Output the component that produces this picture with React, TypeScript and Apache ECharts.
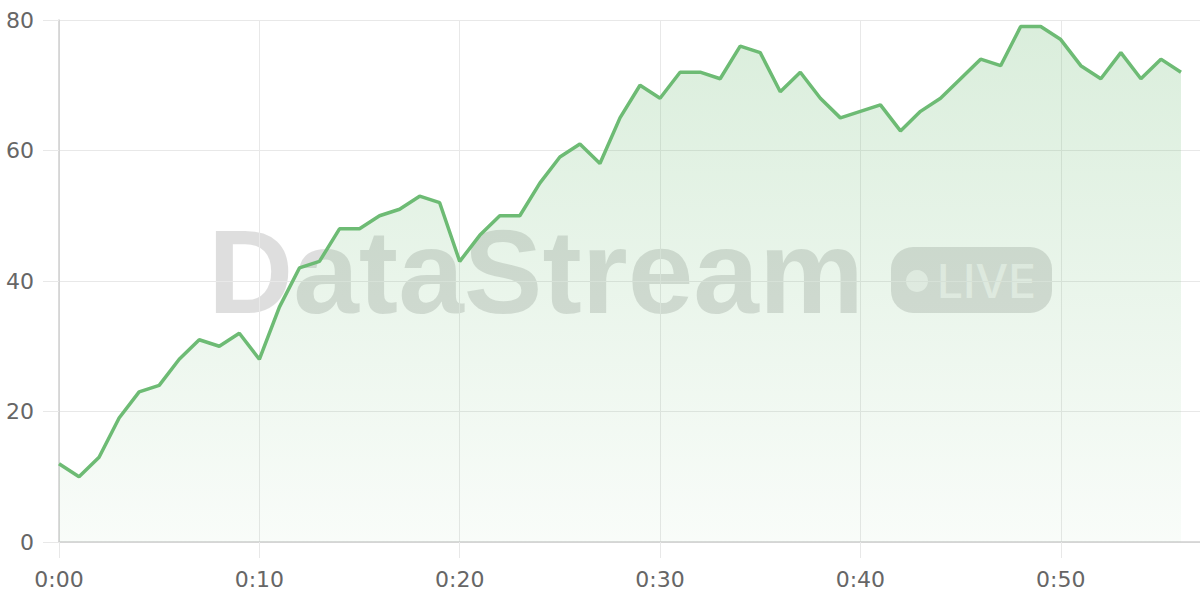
import React, { useEffect, useRef } from 'react';
import * as echarts from 'echarts';

// minutes since start, one reading per minute
const minutes: number[] = Array.from({ length: 57 }, (_, i) => i);
const values: number[] = [
  12, 10, 13, 19, 23, 24, 28, 31, 30, 32,
  28, 36, 42, 43, 48, 48, 50, 51, 53, 52,
  43, 47, 50, 50, 55, 59, 61, 58, 65, 70,
  68, 72, 72, 71, 76, 75, 69, 72, 68, 65,
  66, 67, 63, 66, 68, 71, 74, 73, 79, 79,
  77, 73, 71, 75, 71, 74, 72,
];
const yTicks = [0, 20, 40, 60, 80];

const fmtTime = (v: number) => `0:${String(v).padStart(2, '0')}`;

const App: React.FC = () => {
  const chartRef = useRef<HTMLDivElement>(null);

  useEffect(() => {
    if (!chartRef.current) return;
    const chart = echarts.init(chartRef.current, undefined, { renderer: 'svg' });

    const labelFont = {
      color: '#666',
      fontSize: 22,
      fontFamily: 'DejaVu Sans',
    };

    const option: any = {
      animation: false,
      backgroundColor: '#fff',
      grid: { left: 59, right: -1, top: 20, bottom: 58, outerBoundsMode: 'none', containLabel: false },
      xAxis: {
        type: 'value',
        min: 0,
        max: 57,
        interval: 10,
        axisLine: { show: true, lineStyle: { color: '#cfcfcf', width: 1.5 } },
        axisTick: { show: true, length: 16, lineStyle: { color: '#e8e8e8' } },
        axisLabel: { ...labelFont, margin: 26, showMaxLabel: false, formatter: (v: number) => fmtTime(v) },
        splitLine: { show: true, lineStyle: { color: '#e8e8e8' } },
      },
      yAxis: {
        type: 'value',
        min: yTicks[0],
        max: yTicks[yTicks.length - 1],
        interval: 20,
        axisLine: { show: true, lineStyle: { color: '#cfcfcf', width: 1.5 } },
        axisTick: { show: true, length: 16, lineStyle: { color: '#e8e8e8' } },
        axisLabel: { ...labelFont, margin: 25 },
        splitLine: { show: true, lineStyle: { color: '#e8e8e8' } },
      },
      graphic: [
        {
          type: 'group',
          z: 1,
          silent: true,
          children: [
            {
              type: 'text',
              x: 208,
              y: 272,
              style: {
                text: 'DataStream',
                fontFamily: 'Liberation Sans',
                fontWeight: 'bold',
                fontSize: 118,
                fill: 'rgba(0,0,0,0.13)',
                verticalAlign: 'middle',
                align: 'left',
              },
            },
            {
              type: 'rect',
              shape: { x: 891, y: 247, width: 161, height: 66, r: 22 },
              style: { fill: 'rgba(0,0,0,0.13)' },
            },
            {
              type: 'circle',
              shape: { cx: 917, cy: 281, r: 11 },
              style: { fill: 'rgba(255,255,255,0.6)' },
            },
            {
              type: 'text',
              x: 937,
              y: 281,
              style: {
                text: 'LIVE',
                fontFamily: 'Inter',
                fontWeight: 500,
                fontSize: 46,
                fill: 'rgba(255,255,255,0.6)',
                verticalAlign: 'middle',
                align: 'left',
              },
            },
          ],
        },
      ],
      series: [
        {
          type: 'line',
          z: 3,
          data: minutes.map((m, i) => [m, values[i]]),
          showSymbol: false,
          lineStyle: { color: '#6dbb74', width: 3.5 },
          itemStyle: { color: '#6dbb74' },
          areaStyle: {
            color: new echarts.graphic.LinearGradient(0, 0, 0, 1, [
              { offset: 0, color: 'rgba(109,187,116,0.36)' },
              { offset: 1, color: 'rgba(109,187,116,0.06)' },
            ]),
          },
        },
      ],
    };

    chart.setOption(option);

    const handleResize = () => chart.resize();
    window.addEventListener('resize', handleResize);
    return () => {
      window.removeEventListener('resize', handleResize);
      chart.dispose();
    };
  }, []);

  return (
    <div
      ref={chartRef}
      style={{ position: 'fixed', left: 0, top: 0, width: '1200px', height: '600px' }}
    />
  );
};

export default App;
